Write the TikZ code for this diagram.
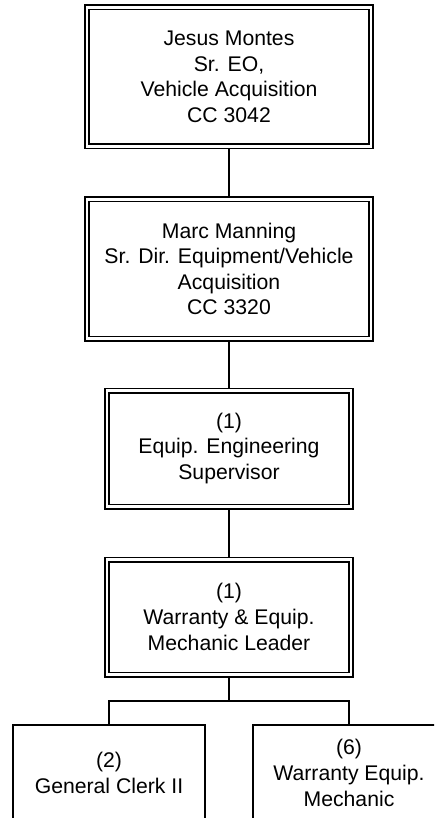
\documentclass[tikz,border=0pt]{standalone}
\usepackage{fontspec}
\setmainfont{Liberation Sans}
\usetikzlibrary{positioning}

\tikzset{
  dbox/.style={draw, double, line width=1.6pt, double distance=2.8pt, outer sep=3pt,
    align=center, inner sep=0pt, minimum width=#1},
  sbox/.style={draw, line width=2pt, outer sep=1pt, align=center, inner sep=0pt,
    minimum width=192pt, minimum height=96pt},
  link/.style={line width=2pt}
}

\begin{document}
\begin{tikzpicture}[x=1pt,y=-1pt,font=\fontsize{21.2}{25.6}\selectfont]
    \path[use as bounding box, clip] (0,0) rectangle (434,818);
    \node[dbox=284pt, minimum height=139pt] (eo) at (229,77) {Jesus Montes\\Sr. EO,\\Vehicle Acquisition\\CC 3042};
    \node[dbox=284pt, minimum height=139pt] (dir) at (229,269) {Marc Manning\\Sr. Dir. Equipment/Vehicle\\Acquisition\\CC 3320};
    \node[dbox=244pt, minimum height=116pt] (sup) at (229,448.5) {(1)\\Equip. Engineering\\Supervisor};
    \node[dbox=244pt, minimum height=115pt] (lead) at (229,617) {(1)\\Warranty \& Equip.\\Mechanic Leader};
    \node[sbox] (clerk) at (109,773) {(2)\\General Clerk II};
    \node[sbox] (mech) at (349,773) {(6)\\Warranty Equip.\\Mechanic};
    \coordinate (split) at (229,701);
    % reporting lines
    \draw[link] (eo) -- (dir);
    \draw[link] (dir) -- (sup);
    \draw[link] (sup) -- (lead);
    \draw[link] (lead) -- (split);
    \draw[link] (clerk.north) |- (split) -| (mech.north);
\end{tikzpicture}
\end{document}
